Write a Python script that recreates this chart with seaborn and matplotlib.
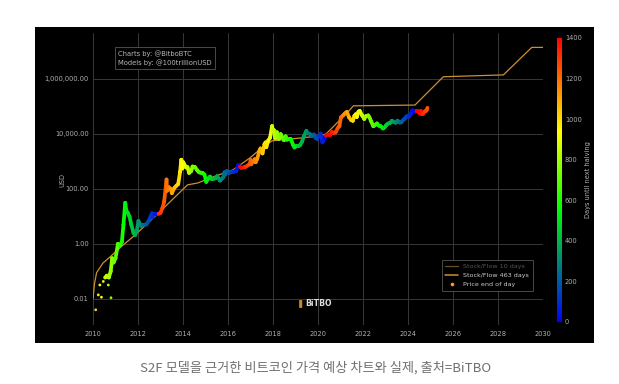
import numpy as np
import pandas as pd
import seaborn as sns
import matplotlib
matplotlib.use('Agg')
from matplotlib import pyplot as plt
from matplotlib.collections import LineCollection
from matplotlib.colors import LinearSegmentedColormap, Normalize
from matplotlib.cm import ScalarMappable
from matplotlib.lines import Line2D
from matplotlib.patches import Rectangle, FancyBboxPatch
from matplotlib.ticker import FixedLocator, FuncFormatter

# BTC price (USD)
price_dates = [
    '2010-07-18', '2010-08-15', '2010-09-15', '2010-10-15', '2010-11-08', '2010-12-01',
    '2011-01-01', '2011-02-10', '2011-03-15', '2011-04-15', '2011-05-10', '2011-06-08',
    '2011-06-25', '2011-07-15', '2011-08-15', '2011-09-15', '2011-10-20', '2011-11-18',
    '2011-12-15', '2012-01-08', '2012-02-20', '2012-03-15', '2012-04-15', '2012-05-15',
    '2012-06-15', '2012-07-15', '2012-08-17', '2012-08-20', '2012-09-15', '2012-10-15',
    '2012-11-28', '2013-01-01', '2013-02-01', '2013-03-01', '2013-04-09', '2013-04-17',
    '2013-05-15', '2013-06-15', '2013-07-05', '2013-08-15', '2013-09-15', '2013-10-15',
    '2013-11-15', '2013-12-04', '2013-12-18', '2014-01-05', '2014-02-20', '2014-03-15',
    '2014-04-10', '2014-05-15', '2014-06-05', '2014-07-15', '2014-08-18', '2014-09-20',
    '2014-10-15', '2014-11-15', '2014-12-15', '2015-01-14', '2015-02-15', '2015-03-15',
    '2015-04-15', '2015-05-15', '2015-06-15', '2015-07-10', '2015-08-25', '2015-09-20',
    '2015-10-20', '2015-11-04', '2015-11-15', '2015-12-15', '2016-01-15', '2016-02-15',
    '2016-03-15', '2016-04-15', '2016-05-15', '2016-06-17', '2016-07-09', '2016-08-05',
    '2016-09-15', '2016-10-15', '2016-11-15', '2016-12-20', '2017-01-04', '2017-01-12',
    '2017-02-15', '2017-03-10', '2017-03-25', '2017-04-20', '2017-05-25', '2017-06-12',
    '2017-07-15', '2017-08-15', '2017-09-02', '2017-09-15', '2017-10-15', '2017-11-15',
    '2017-12-17', '2017-12-30', '2018-01-15', '2018-02-06', '2018-03-05', '2018-04-06',
    '2018-05-05', '2018-06-28', '2018-07-25', '2018-08-14', '2018-09-15', '2018-10-15',
    '2018-11-25', '2018-12-15', '2019-01-15', '2019-02-15', '2019-03-15', '2019-04-15',
    '2019-05-15', '2019-06-26', '2019-07-15', '2019-08-15', '2019-09-25', '2019-10-26',
    '2019-11-25', '2019-12-17', '2020-01-15', '2020-02-13', '2020-03-13', '2020-04-15',
    '2020-05-11', '2020-06-15', '2020-07-15', '2020-08-15', '2020-09-15', '2020-10-15',
    '2020-11-15', '2020-12-15', '2021-01-08', '2021-02-15', '2021-03-15', '2021-04-14',
    '2021-05-20', '2021-06-22', '2021-07-20', '2021-08-15', '2021-09-07', '2021-09-22',
    '2021-10-20', '2021-11-10', '2021-12-15', '2022-01-22', '2022-02-15', '2022-03-28',
    '2022-04-15', '2022-05-12', '2022-06-18', '2022-07-15', '2022-08-15', '2022-09-15',
    '2022-10-15', '2022-11-21', '2022-12-15', '2023-01-15', '2023-02-15', '2023-03-15',
    '2023-04-15', '2023-05-15', '2023-06-15', '2023-07-15', '2023-08-20', '2023-09-15',
    '2023-10-25', '2023-11-15', '2023-12-10', '2024-01-15', '2024-02-15', '2024-03-14',
    '2024-04-19', '2024-05-15', '2024-06-15', '2024-07-05', '2024-07-28', '2024-08-05',
    '2024-09-06', '2024-09-27', '2024-10-15', '2024-10-29', '2024-11-12',
]
price_usd = [
    0.06, 0.07, 0.06, 0.1, 0.3, 0.21,
    0.3, 1.0, 0.87, 1.2, 5, 31,
    16, 14, 10, 5, 2.5, 2.1,
    3.2, 6.8, 4.5, 5, 5, 5.1,
    6.4, 8.8, 13, 9, 12, 12,
    12.4, 13.5, 20, 34, 220, 85,
    115, 100, 70, 110, 130, 150,
    420, 1150, 550, 930, 600, 620,
    380, 450, 650, 620, 480, 400,
    390, 380, 330, 180, 240, 280,
    225, 235, 245, 290, 200, 230,
    270, 400, 330, 450, 380, 400,
    415, 430, 455, 750, 650, 580,
    610, 640, 710, 800, 1130, 780,
    1000, 1200, 930, 1240, 2400, 2950,
    1950, 4200, 4900, 3300, 5700, 7300,
    19300, 13000, 13800, 6900, 11500, 6600,
    9800, 5900, 8200, 6200, 6500, 6600,
    3900, 3200, 3600, 3600, 3900, 5100,
    8000, 12900, 10500, 10200, 8400, 9500,
    7000, 6600, 8800, 10300, 4900, 6800,
    8600, 9400, 9200, 11800, 10800, 11500,
    16000, 19400, 40000, 48000, 56000, 63000,
    40000, 32000, 30000, 46000, 52000, 41000,
    65000, 68000, 48000, 35000, 44000, 47000,
    40000, 29000, 19000, 21000, 24000, 20000,
    19000, 15800, 17000, 21000, 24000, 25000,
    30000, 27000, 25500, 30300, 26000, 26600,
    34000, 37000, 44000, 42500, 52000, 72000,
    64000, 66000, 66000, 56000, 68000, 54000,
    54000, 65500, 67000, 72000, 88000,
]

# sparse early 2010 end-of-day prices
early_dates = ['2010-02-14', '2010-03-28', '2010-04-22', '2010-05-18',
               '2010-06-17', '2010-09-06', '2010-10-20']
early_usd = [0.004, 0.014, 0.032, 0.0115, 0.043, 0.032, 0.011]

# Stock/Flow 463 days model
s2f_years = [2010.0, 2010.07, 2010.16, 2010.44, 2010.8, 2011.26, 2011.87, 2012.9,
             2014.2, 2014.67, 2015.2, 2016.22, 2016.98, 2017.56, 2017.96, 2019.0,
             2020.09, 2020.36, 2021.35, 2021.57, 2024.31, 2025.57, 2028.24, 2029.5,
             2030.0]
s2f_usd = [0.01, 0.037, 0.09, 0.2, 0.36, 0.8, 2.1, 13,
           140, 165, 250, 490, 1350, 3400, 5600, 6800,
           8500, 10000, 65000, 105000, 112000, 1.2e6, 1.4e6, 1.4e7,
           1.4e7]

halvings = ['2012-11-28', '2016-07-09', '2020-05-11', '2024-04-20', '2028-04-15']
cbar_ticks = [0, 200, 400, 600, 800, 1000, 1200, 1400]
year_ticks = list(range(2010, 2031, 2))
usd_ticks = [0.01, 1, 100, 1e4, 1e6]


def to_year(d):
    ts = pd.Timestamp(d)
    n = 366 if ts.is_leap_year else 365
    return ts.year + (ts.dayofyear - 1) / n


def days_left(d):
    ts = pd.Timestamp(d)
    for h in halvings:
        h = pd.Timestamp(h)
        if h > ts:
            return min((h - ts).days, 1400)
    return 1400


df = pd.DataFrame({'date': price_dates, 'usd': price_usd})
df['year'] = df['date'].map(to_year)
df['days'] = df['date'].map(days_left)

early = pd.DataFrame({'date': early_dates, 'usd': early_usd})
early['year'] = early['date'].map(to_year)
early['days'] = early['date'].map(days_left)

cmap = LinearSegmentedColormap.from_list(
    'halving', [(0, '#0000ff'), (0.4, '#00ff00'), (0.67, '#ffff00'), (1, '#ff0000')])
norm = Normalize(0, 1400)

sns.set_style('dark')
plt.rcParams['font.family'] = ['DejaVu Sans']
txt = '#b0b0b0'
fs = 4.8

W, H = 619, 384
fig = plt.figure(figsize=(W / 100, H / 100), dpi=100)
fig.patch.set_facecolor('white')
fig.add_artist(Rectangle((35 / W, 1 - 343 / H), (594 - 35) / W, (343 - 27) / H,
                         transform=fig.transFigure, facecolor='black',
                         edgecolor='none', zorder=-5))

ax = fig.add_axes([93 / W, 1 - 325 / H, 450 / W, 292 / H])
ax.set_facecolor('black')
for s in ax.spines.values():
    s.set_visible(False)

ax.set_yscale('log')
ax.set_xlim(2010, 2030)
ax.set_ylim(10 ** -2.95, 10 ** 7.67)
ax.grid(True, color='#383838', lw=0.7)
ax.set_axisbelow(True)

# model line
sns.lineplot(x=s2f_years, y=s2f_usd, color='#cc9030', lw=0.9, ax=ax,
             sort=False, zorder=2)

# price line coloured by days until next halving
pts = np.column_stack([df['year'], df['usd']])
segs = np.stack([pts[:-1], pts[1:]], axis=1)
lc = LineCollection(segs, cmap=cmap, norm=norm, linewidths=2.7,
                    capstyle='round', joinstyle='round', zorder=3)
lc.set_array(df['days'].values[:-1])
ax.add_collection(lc)
sns.scatterplot(data=df, x='year', y='usd', hue='days', palette=cmap,
                hue_norm=norm, s=6, linewidth=0, legend=False, ax=ax, zorder=4)
sns.scatterplot(data=early, x='year', y='usd', hue='days', palette=cmap,
                hue_norm=norm, s=4, linewidth=0, legend=False, ax=ax, zorder=4)

ax.xaxis.set_major_locator(FixedLocator(year_ticks))
ax.yaxis.set_major_locator(FixedLocator(usd_ticks))
ax.yaxis.set_minor_locator(FixedLocator([]))
ax.yaxis.set_major_formatter(FuncFormatter(lambda v, p: f'{v:,.2f}'))
ax.tick_params(axis='both', length=0, labelsize=fs, labelcolor=txt)
ax.tick_params(axis='x', pad=4)
ax.tick_params(axis='y', pad=3)
ax.set_xlabel('')
ax.set_ylabel('')
ax.text(-0.069, 0.497, 'USD', transform=ax.transAxes, rotation=90,
        ha='center', va='center', fontsize=fs, color=txt)

# credits box
ax.text(0.0556, 0.942, 'Charts by: @BitboBTC\nModels by: @100trillionUSD',
        transform=ax.transAxes, ha='left', va='top', fontsize=4.9,
        color='#b8b8b8', linespacing=1.45,
        bbox=dict(boxstyle='square,pad=0.45', facecolor='black',
                  edgecolor='#555555', lw=0.6))

# logo
ax.add_patch(FancyBboxPatch((0.458, 0.058), 0.007, 0.028,
                            boxstyle='round,pad=0.0,rounding_size=0.003',
                            transform=ax.transAxes, facecolor='#c8862a',
                            edgecolor='none', zorder=5))
ax.text(0.471, 0.073, 'BiTBO', transform=ax.transAxes, ha='left', va='center',
        fontsize=5.6, fontweight='bold', color='#dddddd', zorder=5)

# legend
handles = [Line2D([], [], color='#6b5020', lw=0.9),
           Line2D([], [], color='#cc9030', lw=1.1),
           Line2D([], [], color='#f0a020', lw=0, marker='o', markersize=1.6)]
labels = ['Stock/Flow 10 days', 'Stock/Flow 463 days', 'Price end of day']
leg = ax.legend(handles, labels, loc='lower right', bbox_to_anchor=(0.985, 0.106),
                fontsize=4.6, frameon=True, facecolor='black', edgecolor='#555555',
                framealpha=1, fancybox=False, handlelength=2.0, handletextpad=0.8,
                borderpad=0.6, labelspacing=0.55)
leg.get_frame().set_linewidth(0.6)
for t, c in zip(leg.get_texts(), ['#555555', '#cccccc', '#cccccc']):
    t.set_color(c)

# colorbar
cax = fig.add_axes([557 / W, 1 - 322 / H, 4.5 / W, 284 / H])
cbar = fig.colorbar(ScalarMappable(norm=norm, cmap=cmap), cax=cax)
cbar.outline.set_visible(False)
cbar.set_ticks(cbar_ticks)
cax.tick_params(length=0, labelsize=fs, labelcolor=txt, pad=2.5)
cbar.set_label('Days until next halving', fontsize=fs, color=txt, labelpad=2)

fig.text(0.509, 1 - 368 / H, 'S2F 모델을 근거한 비트코인 가격 예상 차트와 실제, 출처=BiTBO',
         ha='center', va='center', fontsize=9.5, color='#707070',
         family=['Noto Sans CJK KR', 'DejaVu Sans'])

fig.savefig('out.png', dpi=100, facecolor='white')
